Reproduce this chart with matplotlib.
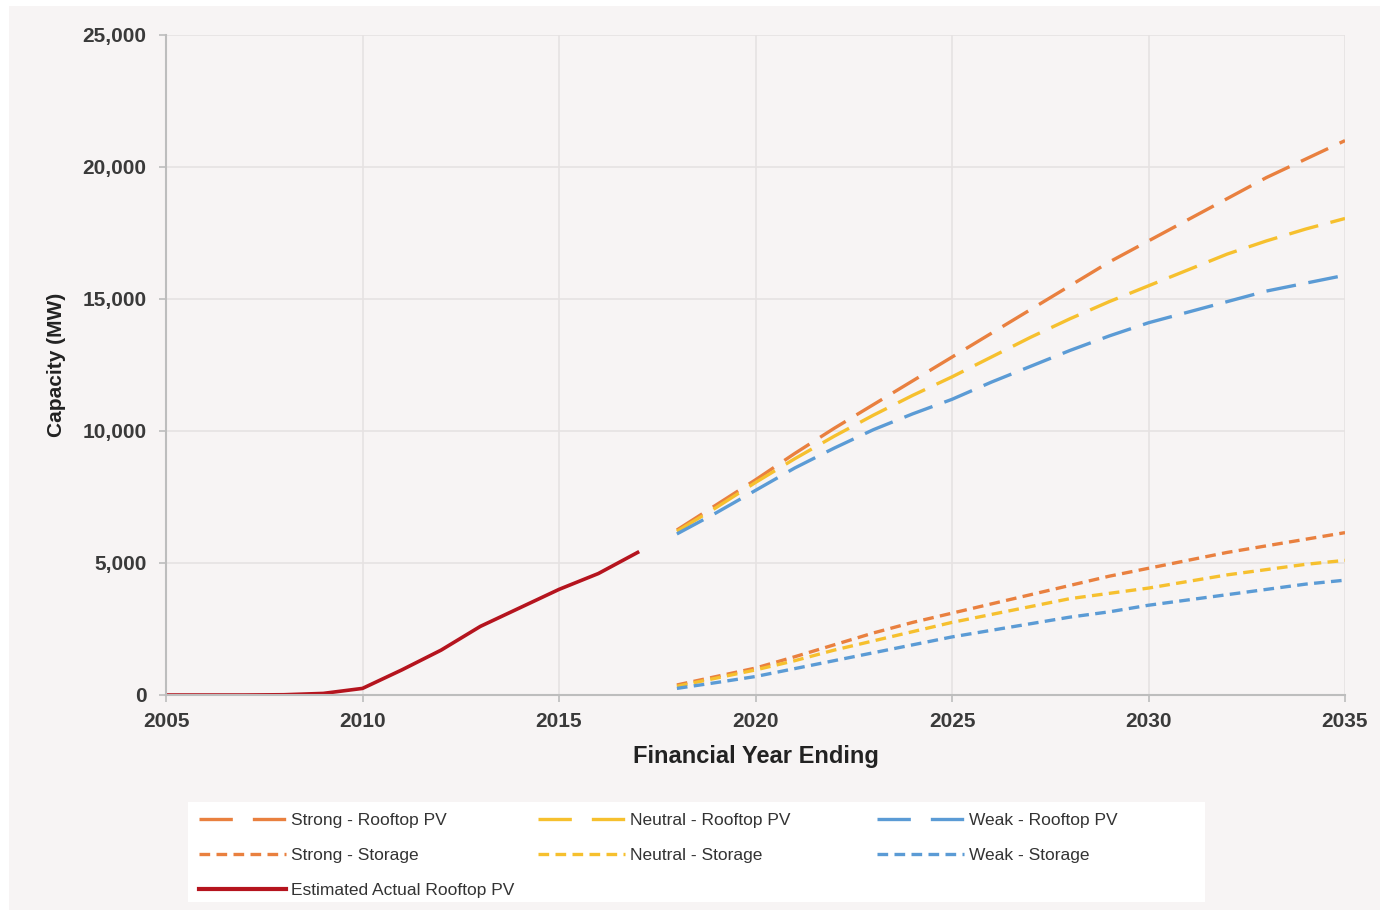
import matplotlib.pyplot as plt
from matplotlib.patches import Rectangle
from matplotlib.lines import Line2D

plt.rcParams['font.family'] = ['Liberation Sans', 'DejaVu Sans']

# historical rooftop PV
hist_years = list(range(2005, 2018))
actual_pv = [0, 0, 0, 10, 60, 250, 950, 1700, 2600, 3300, 4000, 4600, 5400]

# projections
proj_years = list(range(2018, 2036))
strong_pv = [6250, 7200, 8150, 9150, 10100, 11000, 11900, 12800, 13700,
             14600, 15500, 16400, 17200, 18000, 18800, 19600, 20300, 21000]
neutral_pv = [6200, 7100, 8050, 8950, 9800, 10600, 11350, 12050, 12800,
              13550, 14250, 14900, 15500, 16100, 16700, 17200, 17650, 18050]
weak_pv = [6100, 6900, 7750, 8600, 9350, 10050, 10650, 11200, 11850,
           12450, 13050, 13600, 14100, 14500, 14900, 15300, 15600, 15900]
strong_st = [380, 700, 1020, 1450, 1900, 2350, 2750, 3100, 3450,
             3800, 4150, 4500, 4800, 5100, 5400, 5650, 5900, 6150]
neutral_st = [330, 640, 950, 1300, 1700, 2050, 2400, 2750, 3050,
              3350, 3650, 3850, 4050, 4300, 4550, 4750, 4950, 5100]
weak_st = [250, 470, 700, 1000, 1300, 1600, 1900, 2200, 2450,
           2700, 2950, 3150, 3400, 3600, 3800, 4000, 4200, 4350]

ORANGE = '#E9803F'
YELLOW = '#F6C02E'
BLUE = '#5B9BD5'
RED = '#B5141E'
BG = '#F7F4F4'

W, H = 1380, 911
fig = plt.figure(figsize=(13.8, 9.11), dpi=100, facecolor='white')
fig.patches.append(Rectangle((9 / W, 0.001), 1 - 9 / W, 1 - 6 / H - 0.001,
                             transform=fig.transFigure, facecolor=BG,
                             edgecolor='none', zorder=-10))
# white legend panel
fig.patches.append(Rectangle((188 / W, 1 - 902 / H), (1205 - 188) / W, 100 / H,
                             transform=fig.transFigure, facecolor='white',
                             edgecolor='none', zorder=-5))
ax = fig.add_axes([166 / W, 1 - 695 / H, (1345 - 166) / W, (695 - 35) / H])
ax.set_facecolor(BG)

long_dash = (9, 3.8)
short_dash = (3.2, 1.9)
lw = 2.4

ax.plot(proj_years, strong_pv, color=ORANGE, lw=lw, dashes=long_dash)
ax.plot(proj_years, neutral_pv, color=YELLOW, lw=lw, dashes=long_dash)
ax.plot(proj_years, weak_pv, color=BLUE, lw=lw, dashes=long_dash)
ax.plot(proj_years, strong_st, color=ORANGE, lw=lw, dashes=short_dash)
ax.plot(proj_years, neutral_st, color=YELLOW, lw=lw, dashes=short_dash)
ax.plot(proj_years, weak_st, color=BLUE, lw=lw, dashes=short_dash)
ax.plot(hist_years, actual_pv, color=RED, lw=2.6)

ax.set_xlim(2005, 2035)
ax.set_ylim(0, 25000)
ax.set_xticks(range(2005, 2036, 5))
ax.set_yticks(range(0, 25001, 5000))
ax.set_yticklabels([f'{v:,}' for v in range(0, 25001, 5000)])
ax.grid(True, color='#E6E2E2', lw=1.2)
ax.set_axisbelow(True)
for s in ['top', 'right']:
    ax.spines[s].set_visible(False)
for s in ['left', 'bottom']:
    ax.spines[s].set_color('#BDBDBD')
    ax.spines[s].set_linewidth(1.5)
ax.tick_params(colors='#BDBDBD', length=5, width=1.2, labelcolor='#3A3A3A',
               labelsize=15)
for t in ax.get_xticklabels() + ax.get_yticklabels():
    t.set_fontweight('bold')
ax.tick_params(axis='y', pad=9)
ax.tick_params(axis='x', pad=7)

ax.set_xlabel('Financial Year Ending', fontsize=17, fontweight='bold',
              color='#222222', labelpad=10)
ax.set_ylabel('Capacity (MW)', fontsize=15, fontweight='bold',
              color='#222222', labelpad=12)

# legend: three fixed columns
leg_long = (10, 6)
columns = [
    ([Line2D([], [], color=ORANGE, lw=lw, dashes=leg_long),
      Line2D([], [], color=ORANGE, lw=lw, dashes=short_dash),
      Line2D([], [], color=RED, lw=3)],
     ['Strong - Rooftop PV', 'Strong - Storage', 'Estimated Actual Rooftop PV'], 199),
    ([Line2D([], [], color=YELLOW, lw=lw, dashes=leg_long),
      Line2D([], [], color=YELLOW, lw=lw, dashes=short_dash)],
     ['Neutral - Rooftop PV', 'Neutral - Storage'], 538),
    ([Line2D([], [], color=BLUE, lw=lw, dashes=leg_long),
      Line2D([], [], color=BLUE, lw=lw, dashes=short_dash)],
     ['Weak - Rooftop PV', 'Weak - Storage'], 877),
]
for hs, ls, x0 in columns:
    leg = fig.legend(hs, ls, loc='upper left',
                     bbox_to_anchor=(x0 / W, 1 - 813 / H),
                     frameon=False, fontsize=12.5, handlelength=5.0,
                     handletextpad=0.3, labelspacing=1.15,
                     borderpad=0, borderaxespad=0)
    for t in leg.get_texts():
        t.set_color('#333333')

fig.savefig('out.png', dpi=100, facecolor=fig.get_facecolor())
